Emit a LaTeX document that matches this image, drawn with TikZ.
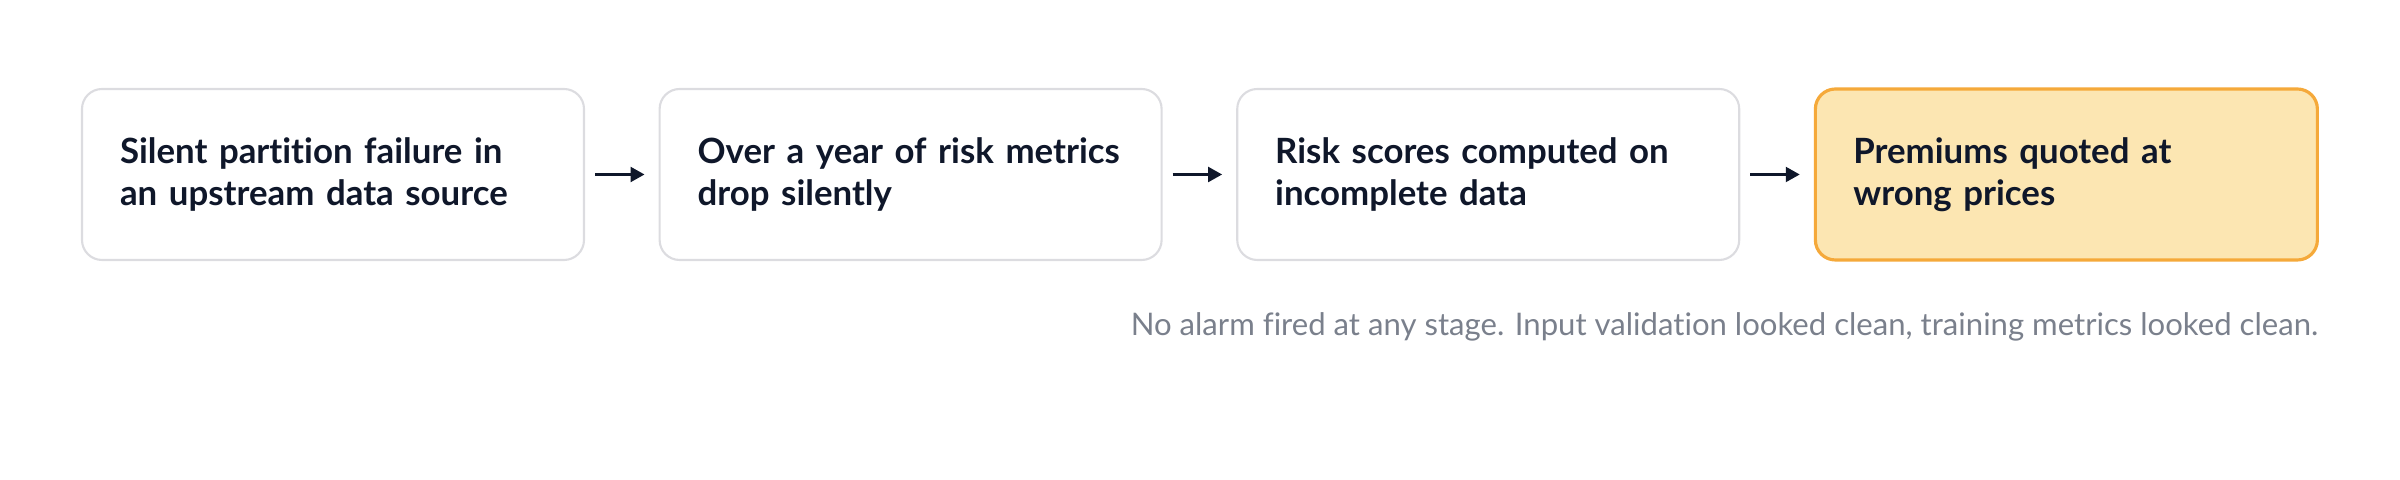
\documentclass[tikz,border=0pt]{standalone}
\usepackage{fontspec}
\setmainfont[Ligatures=NoCommon]{Lato}
\usepackage{tikz}
\usetikzlibrary{positioning, arrows.meta}

\definecolor{inkdark}{HTML}{0F172A}
\definecolor{boxline}{HTML}{DCDCE0}
\definecolor{warnfill}{HTML}{FCE6B2}
\definecolor{warnline}{HTML}{F5A93A}
\definecolor{notegray}{HTML}{7A808C}
\newcommand{\stagefont}{\bfseries\fontsize{9.9pt}{12pt}\selectfont\hyphenpenalty=10000\relax}

\begin{document}
\begin{tikzpicture}[node distance=0.735cm,
		stagebox/.style={draw=boxline, line width=0.6pt, fill=white, rounded corners=0.2cm,
			minimum width=5.02cm, minimum height=1.71cm, text width=4.26cm, inner xsep=0.38cm,
			align=left, text=inkdark, font=\stagefont},
		warnbox/.style={stagebox, draw=warnline, line width=0.9pt, fill=warnfill},
		flow/.style={-{Triangle[length=4pt, width=4.2pt]}, line width=0.85pt, draw=inkdark,
			shorten <=0.1cm, shorten >=0.14cm}]
			\useasboundingbox (0, 0) rectangle (24, 4.8);
			
			\node[stagebox] (s1) at (3.33, 3.055) {Silent partition failure in\\an upstream data source};
			\node[stagebox, right=of s1] (s2) {Over a year of risk metrics\\drop silently};
			\node[stagebox, right=of s2] (s3) {Risk scores computed on\\incomplete data};
			\node[warnbox, right=of s3] (s4) {Premiums quoted at\\wrong prices};
			
			\draw[flow] (s1) -- (s2);
			\draw[flow] (s2) -- (s3);
			\draw[flow] (s3) -- (s4);
			
			% note under the chain
			\node[below left=0.5cm and 0cm of s4.south east, inner sep=0, text=notegray,
				font=\fontsize{8.85pt}{10pt}\selectfont] (note)
				{No alarm fired at any stage. Input validation looked clean, training metrics looked clean.};
		\end{tikzpicture}
\end{document}
